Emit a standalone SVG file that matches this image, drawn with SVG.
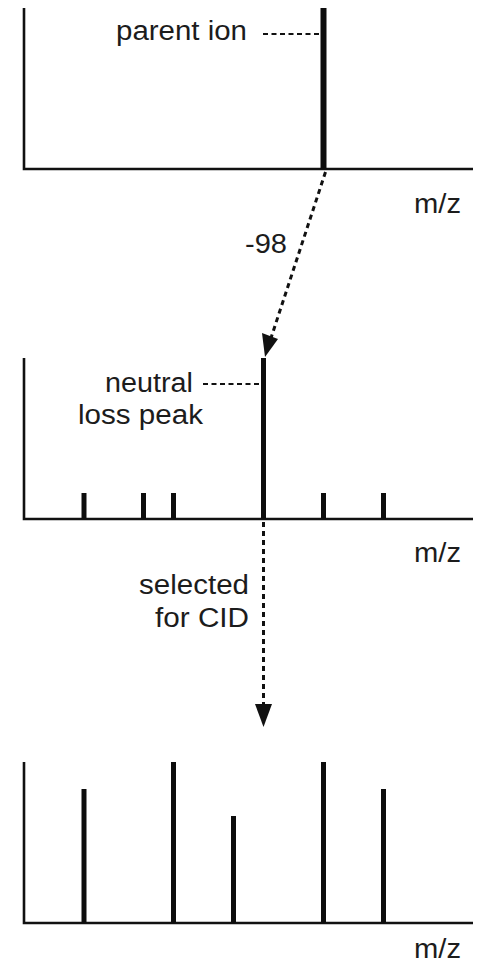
<svg xmlns="http://www.w3.org/2000/svg" width="479" height="968" viewBox="0 0 479 968">
<style>
.ax{stroke:#111;stroke-width:2.6;fill:none}
.pk{stroke:#0d0d0d;stroke-width:5;fill:none}
.ld{stroke:#111;stroke-width:2;stroke-dasharray:5,3.5;fill:none}
.ar{stroke:#111;stroke-width:3;stroke-dasharray:5,4;fill:none}
text{font-family:"Liberation Sans",Arial,sans-serif;font-size:27px;fill:#1c1c1c}
</style>
<rect width="479" height="968" fill="#fff"/>
<g id="panel1">
<path class="ax" d="M24,8 V169 H473"/>
<line class="pk" x1="323.5" y1="8" x2="323.5" y2="169" style="stroke-width:6"/>
<line class="ld" x1="263" y1="34" x2="321" y2="34"/>
<text x="116" y="40" textLength="131" lengthAdjust="spacingAndGlyphs">parent ion</text>
<text x="414" y="213" textLength="47" lengthAdjust="spacingAndGlyphs">m/z</text>
</g>
<g id="panel2">
<path class="ax" d="M24,358 V519 H473"/>
<line class="pk" x1="263.5" y1="358" x2="263.5" y2="519"/>
<line class="pk" x1="84" y1="493" x2="84" y2="519"/>
<line class="pk" x1="143.5" y1="493" x2="143.5" y2="519"/>
<line class="pk" x1="173.5" y1="493" x2="173.5" y2="519"/>
<line class="pk" x1="323.5" y1="493" x2="323.5" y2="519"/>
<line class="pk" x1="383.5" y1="493" x2="383.5" y2="519"/>
<line class="ld" x1="203" y1="384" x2="261" y2="384"/>
<text x="105" y="392" textLength="88" lengthAdjust="spacingAndGlyphs">neutral</text>
<text x="78" y="424" textLength="125" lengthAdjust="spacingAndGlyphs">loss peak</text>
<text x="414" y="562" textLength="47" lengthAdjust="spacingAndGlyphs">m/z</text>
</g>
<g id="panel3">
<path class="ax" d="M24,762 V923 H473"/>
<line class="pk" x1="84" y1="789" x2="84" y2="923"/>
<line class="pk" x1="173.5" y1="762" x2="173.5" y2="923"/>
<line class="pk" x1="233.5" y1="816" x2="233.5" y2="923"/>
<line class="pk" x1="323.5" y1="762" x2="323.5" y2="923"/>
<line class="pk" x1="383.5" y1="789" x2="383.5" y2="923"/>
<text x="414" y="958" textLength="47" lengthAdjust="spacingAndGlyphs">m/z</text>
</g>
<g id="connectors">
<line class="ar" x1="325.5" y1="172" x2="270" y2="341"/>
<path d="M265,357 L262,333 L278,339 Z" fill="#111"/>
<text x="245" y="253" textLength="42" lengthAdjust="spacingAndGlyphs">-98</text>
<line class="ar" x1="263.5" y1="522" x2="263.5" y2="705"/>
<path d="M255,704 L272,704 L263.5,727 Z" fill="#111"/>
<text x="249" y="594" text-anchor="end" textLength="110" lengthAdjust="spacingAndGlyphs">selected</text>
<text x="249" y="627" text-anchor="end" textLength="94" lengthAdjust="spacingAndGlyphs">for CID</text>
</g>
</svg>
